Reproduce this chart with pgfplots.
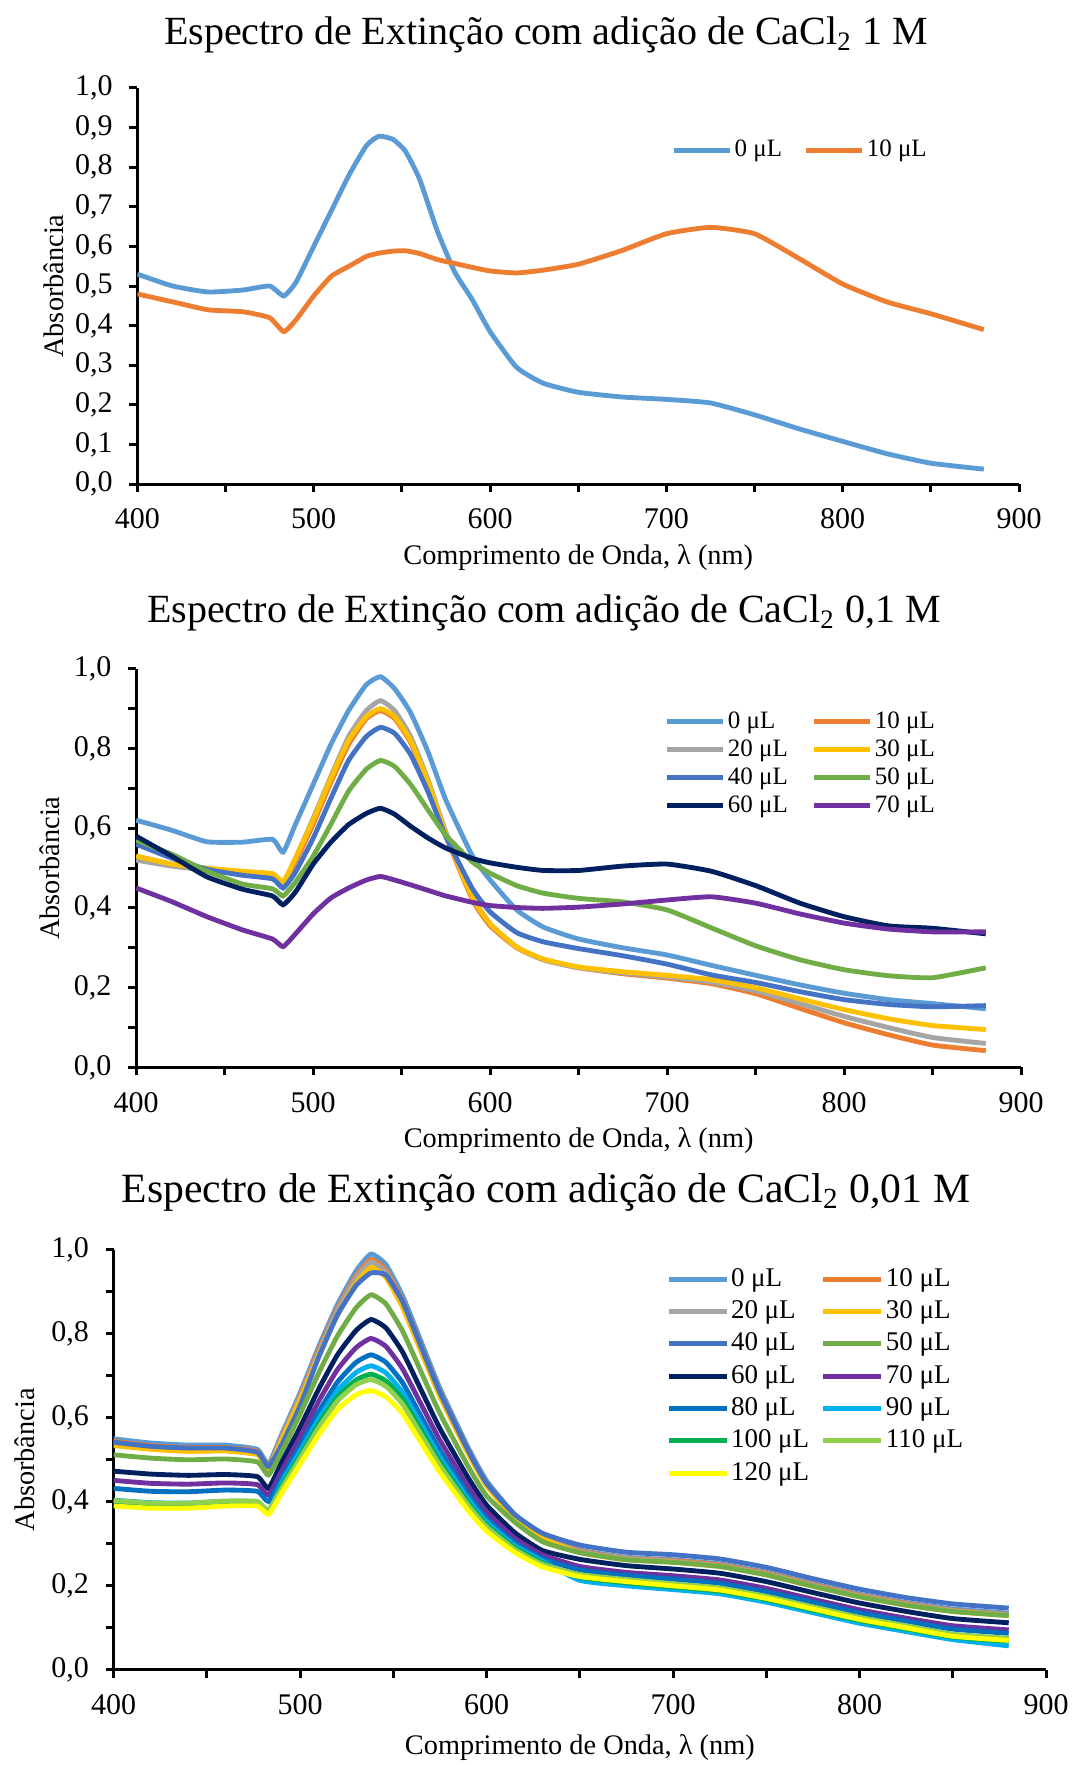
\documentclass[border=0pt]{standalone}
\usepackage{fontspec}
\setmainfont{Liberation Serif}
\usepackage{pgfplots}
\usepackage{pgfplotstable}
\pgfplotsset{compat=1.18}

\definecolor{s0}{HTML}{5B9BD5}
\definecolor{s10}{HTML}{ED7D31}
\definecolor{s20}{HTML}{A5A5A5}
\definecolor{s30}{HTML}{FFC000}
\definecolor{s40}{HTML}{4472C4}
\definecolor{s50}{HTML}{70AD47}
\definecolor{s60}{HTML}{002060}
\definecolor{s70}{HTML}{7030A0}
\definecolor{s80}{HTML}{0070C0}
\definecolor{s90}{HTML}{00B0F0}
\definecolor{s100}{HTML}{00B050}
\definecolor{s110}{HTML}{92D050}
\definecolor{s120}{HTML}{FFFF00}

% CaCl2 1 M
\pgfplotstableread{
lam  a0    a10
400  0.53  0.48
420  0.50  0.46
440  0.485 0.44
460  0.49  0.435
475  0.50  0.42
483  0.475 0.385
490  0.51  0.415
500  0.60  0.475
510  0.69  0.525
520  0.78  0.55
530  0.855 0.575
537  0.878 0.583
545  0.87  0.588
552  0.84  0.589
560  0.77  0.582
570  0.64  0.567
580  0.535 0.557
590  0.465 0.547
600  0.385 0.538
615  0.295 0.533
630  0.255 0.54
650  0.232 0.555
675  0.22  0.59
700  0.214 0.632
725  0.205 0.648
750  0.175 0.632
775  0.14  0.57
800  0.108 0.505
825  0.077 0.46
850  0.053 0.43
880  0.038 0.39
}\tabA

% CaCl2 0,1 M
\pgfplotstableread{
lam  a0    a10   a20   a30   a40   a50   a60   a70
400  0.62  0.53  0.52  0.53  0.56  0.57  0.58  0.45
420  0.595 0.51  0.505 0.51  0.525 0.535 0.53  0.416
440  0.566 0.498 0.495 0.50  0.497 0.492 0.478 0.378
460  0.565 0.488 0.49  0.492 0.482 0.46  0.447 0.345
477  0.572 0.48  0.485 0.486 0.473 0.448 0.43  0.322
483  0.54  0.46  0.463 0.466 0.45  0.43  0.408 0.303
490  0.61  0.515 0.525 0.525 0.49  0.465 0.44  0.335
500  0.71  0.61  0.625 0.62  0.575 0.53  0.51  0.385
510  0.81  0.715 0.73  0.725 0.675 0.61  0.565 0.425
520  0.895 0.81  0.83  0.82  0.77  0.693 0.609 0.45
530  0.96  0.875 0.895 0.88  0.83  0.748 0.637 0.47
538  0.98  0.895 0.92  0.90  0.853 0.77  0.65  0.479
546  0.95  0.875 0.895 0.88  0.838 0.755 0.635 0.47
555  0.89  0.815 0.83  0.82  0.785 0.71  0.605 0.458
565  0.79  0.71  0.72  0.715 0.69  0.645 0.575 0.444
575  0.67  0.58  0.59  0.585 0.578 0.582 0.55  0.43
590  0.53  0.42  0.43  0.425 0.448 0.515 0.524 0.414
600  0.47  0.355 0.36  0.36  0.39  0.487 0.513 0.406
615  0.395 0.30  0.302 0.302 0.338 0.456 0.502 0.401
630  0.352 0.27  0.27  0.272 0.315 0.437 0.494 0.399
650  0.322 0.25  0.25  0.252 0.298 0.424 0.494 0.402
675  0.30  0.235 0.237 0.24  0.28  0.415 0.505 0.41
700  0.282 0.224 0.227 0.231 0.259 0.395 0.51  0.42
725  0.256 0.21  0.214 0.22  0.232 0.35  0.492 0.428
750  0.231 0.185 0.192 0.20  0.213 0.305 0.456 0.412
775  0.207 0.148 0.16  0.172 0.19  0.27  0.412 0.385
800  0.186 0.112 0.128 0.145 0.17  0.245 0.378 0.362
825  0.17  0.082 0.10  0.122 0.158 0.23  0.355 0.347
850  0.16  0.056 0.075 0.105 0.152 0.225 0.349 0.34
880  0.147 0.042 0.06  0.095 0.155 0.25  0.335 0.34
}\tabB

% CaCl2 0,01 M
\pgfplotstableread{
lam  a0    a10   a20   a30   a40   a50   a60   a70   a80   a90   a100  a110  a120
400  0.55  0.544 0.540 0.534 0.542 0.512 0.473 0.451 0.432 0.404 0.399 0.403 0.39
420  0.54  0.534 0.531 0.525 0.532 0.504 0.466 0.444 0.425 0.398 0.394 0.397 0.385
440  0.535 0.529 0.526 0.520 0.528 0.500 0.463 0.442 0.424 0.397 0.393 0.397 0.385
460  0.535 0.529 0.526 0.521 0.528 0.502 0.465 0.445 0.428 0.401 0.397 0.402 0.39
477  0.525 0.520 0.517 0.512 0.518 0.495 0.460 0.441 0.425 0.399 0.396 0.401 0.39
483  0.49  0.485 0.483 0.478 0.484 0.464 0.432 0.416 0.401 0.377 0.374 0.380 0.37
490  0.56  0.554 0.552 0.546 0.535 0.518 0.493 0.473 0.456 0.445 0.437 0.431 0.42
500  0.66  0.653 0.650 0.643 0.629 0.609 0.578 0.555 0.534 0.521 0.510 0.504 0.49
510  0.77  0.762 0.757 0.749 0.745 0.707 0.669 0.640 0.615 0.598 0.585 0.577 0.56
520  0.87  0.86  0.855 0.845 0.845 0.795 0.750 0.715 0.685 0.665 0.650 0.640 0.62
530  0.95  0.938 0.932 0.921 0.915 0.862 0.808 0.767 0.732 0.708 0.690 0.679 0.655
538  0.99  0.977 0.971 0.958 0.945 0.893 0.834 0.789 0.750 0.724 0.704 0.691 0.665
546  0.965 0.952 0.946 0.934 0.94  0.871 0.814 0.770 0.732 0.707 0.688 0.675 0.65
555  0.89  0.879 0.873 0.862 0.876 0.806 0.756 0.716 0.683 0.660 0.644 0.632 0.61
565  0.78  0.770 0.766 0.756 0.768 0.708 0.665 0.631 0.602 0.583 0.569 0.559 0.54
575  0.67  0.662 0.658 0.650 0.660 0.610 0.574 0.546 0.522 0.506 0.494 0.486 0.47
590  0.53  0.524 0.521 0.515 0.523 0.485 0.458 0.437 0.419 0.407 0.398 0.392 0.38
600  0.45  0.445 0.443 0.438 0.444 0.414 0.392 0.376 0.361 0.352 0.344 0.340 0.33
615  0.37  0.366 0.365 0.361 0.37  0.352 0.327 0.314 0.303 0.296 0.291 0.287 0.28
630  0.32  0.317 0.316 0.313 0.325 0.305 0.284 0.274 0.265 0.259 0.254 0.251 0.245
650  0.285 0.283 0.281 0.279 0.297 0.279 0.263 0.246 0.238 0.213 0.220 0.227 0.222
675  0.268 0.266 0.265 0.262 0.280 0.262 0.248 0.232 0.225 0.200 0.207 0.215 0.21
700  0.262 0.260 0.258 0.256 0.274 0.256 0.240 0.224 0.216 0.191 0.197 0.205 0.20
725  0.252 0.250 0.248 0.246 0.264 0.246 0.230 0.214 0.206 0.181 0.187 0.195 0.19
750  0.232 0.230 0.228 0.226 0.244 0.226 0.210 0.194 0.186 0.161 0.167 0.175 0.17
775  0.205 0.203 0.201 0.199 0.217 0.199 0.184 0.168 0.161 0.136 0.142 0.150 0.145
800  0.18  0.178 0.176 0.174 0.192 0.174 0.159 0.143 0.136 0.111 0.117 0.125 0.12
825  0.16  0.158 0.156 0.154 0.172 0.154 0.139 0.123 0.116 0.091 0.097 0.105 0.10
850  0.145 0.142 0.141 0.139 0.157 0.139 0.122 0.105 0.097 0.072 0.078 0.085 0.08
880  0.135 0.132 0.131 0.129 0.147 0.129 0.112 0.095 0.087 0.057 0.068 0.075 0.07
}\tabC

\pgfplotsset{
  espectro/.style={
    scale only axis,
    xmin=400, xmax=900, ymin=0, ymax=1,
    axis x line*=bottom, axis y line*=left,
    axis line style={-, line width=0.9pt, black},
    xtick={400,500,600,700,800,900},
    minor x tick num=1,
    tick align=outside,
    major tick length=2.4pt, minor tick length=2.4pt,
    tick style={black, line width=0.9pt},
    /pgf/number format/assume math mode=true,
    tick label style={font=\fontsize{9}{10}\selectfont},
    xticklabel style={yshift=-1.5pt, /pgf/number format/1000 sep={}},
    yticklabel style={xshift=-1.5pt, /pgf/number format/.cd, fixed, fixed zerofill, precision=1, use comma},
    label style={font=\fontsize{8.5}{10}\selectfont},
    xlabel={Comprimento de Onda, λ (nm)},
    ylabel={Absorbância},
    xlabel style={at={(axis description cs:0.5,-0.184)}, anchor=center},
    legend cell align=left,
    legend image code/.code={\draw[##1, line width=1.5pt] (0pt,0pt) -- (16.8pt,0pt);},
  },
  sp/.style={line width=1.45pt, no markers, smooth, tension=0.3},
}

\begin{document}
\begin{tikzpicture}
\path[use as bounding box] (0,0) rectangle (321.9pt,-529.5pt);

% panel 1
\begin{axis}[espectro,
  at={(41.22pt,-145.26pt)}, anchor=south west,
  width=264.5pt, height=118.9pt,
  ytick={0,0.1,0.2,0.3,0.4,0.5,0.6,0.7,0.8,0.9,1},
  ylabel style={at={(axis description cs:-0.0946,0.5)}, anchor=center},
  legend columns=2,
  legend style={draw=none, fill=none, inner sep=0pt, outer sep=0pt,
    at={(0.606,0.8775)}, anchor=north west,
    font=\fontsize{7.5}{9}\selectfont,
    nodes={inner sep=0.6pt, text height=5.5pt, text depth=1.5pt},
    /tikz/every even column/.append style={column sep=5.9pt}},
]
\addplot[sp, color=s0] table[x=lam, y=a0] {\tabA};
\addlegendentry{0 μL}
\addplot[sp, color=s10] table[x=lam, y=a10] {\tabA};
\addlegendentry{10 μL}
\end{axis}

% panel 2
\begin{axis}[espectro,
  at={(40.86pt,-320.22pt)}, anchor=south west,
  width=265.5pt, height=119.6pt,
  ytick={0,0.2,0.4,0.6,0.8,1}, minor y tick num=1,
  ylabel style={at={(axis description cs:-0.0974,0.5)}, anchor=center},
  legend columns=2,
  legend style={draw=none, fill=none, inner sep=0pt, outer sep=0pt,
    at={(0.5975,0.9008)}, anchor=north west,
    font=\fontsize{7.5}{9}\selectfont,
    nodes={inner sep=0.6pt, text height=5.5pt, text depth=1.5pt},
    row sep=0.2pt,
    /tikz/every even column/.append style={column sep=6.6pt}},
]
\addplot[sp, color=s0] table[x=lam, y=a0] {\tabB};
\addlegendentry{0 μL}
\addplot[sp, color=s10] table[x=lam, y=a10] {\tabB};
\addlegendentry{10 μL}
\addplot[sp, color=s20] table[x=lam, y=a20] {\tabB};
\addlegendentry{20 μL}
\addplot[sp, color=s30] table[x=lam, y=a30] {\tabB};
\addlegendentry{30 μL}
\addplot[sp, color=s40] table[x=lam, y=a40] {\tabB};
\addlegendentry{40 μL}
\addplot[sp, color=s50] table[x=lam, y=a50] {\tabB};
\addlegendentry{50 μL}
\addplot[sp, color=s60] table[x=lam, y=a60] {\tabB};
\addlegendentry{60 μL}
\addplot[sp, color=s70] table[x=lam, y=a70] {\tabB};
\addlegendentry{70 μL}
\end{axis}

% panel 3
\begin{axis}[espectro,
  at={(34.11pt,-500.94pt)}, anchor=south west,
  width=279.7pt, height=126pt,
  ytick={0,0.2,0.4,0.6,0.8,1}, minor y tick num=1,
  ylabel style={at={(axis description cs:-0.0951,0.5)}, anchor=center},
  xlabel style={at={(axis description cs:0.5,-0.185)}},
  legend columns=2,
  legend image code/.code={\draw[#1, line width=1.5pt] (0pt,0pt) -- (17.4pt,0pt);},
  legend style={draw=none, fill=none, inner sep=0pt, outer sep=0pt,
    at={(0.5924,0.9658)}, anchor=north west,
    font=\fontsize{8.1}{9.5}\selectfont,
    nodes={inner sep=0.6pt, text height=6pt, text depth=1.7pt},
    row sep=0.8pt,
    /tikz/every even column/.append style={column sep=2.9pt}},
]
\addplot[sp, color=s0] table[x=lam, y=a0] {\tabC};
\addlegendentry{0 μL}
\addplot[sp, color=s10] table[x=lam, y=a10] {\tabC};
\addlegendentry{10 μL}
\addplot[sp, color=s20] table[x=lam, y=a20] {\tabC};
\addlegendentry{20 μL}
\addplot[sp, color=s30] table[x=lam, y=a30] {\tabC};
\addlegendentry{30 μL}
\addplot[sp, color=s40] table[x=lam, y=a40] {\tabC};
\addlegendentry{40 μL}
\addplot[sp, color=s50] table[x=lam, y=a50] {\tabC};
\addlegendentry{50 μL}
\addplot[sp, color=s60] table[x=lam, y=a60] {\tabC};
\addlegendentry{60 μL}
\addplot[sp, color=s70] table[x=lam, y=a70] {\tabC};
\addlegendentry{70 μL}
\addplot[sp, color=s80] table[x=lam, y=a80] {\tabC};
\addlegendentry{80 μL}
\addplot[sp, color=s90] table[x=lam, y=a90] {\tabC};
\addlegendentry{90 μL}
\addplot[sp, color=s100] table[x=lam, y=a100] {\tabC};
\addlegendentry{100 μL}
\addplot[sp, color=s110] table[x=lam, y=a110] {\tabC};
\addlegendentry{110 μL}
\addplot[sp, color=s120] table[x=lam, y=a120] {\tabC};
\addlegendentry{120 μL}
\end{axis}

% titles
\node[anchor=base, font=\fontsize{12}{14}\selectfont] at (163.8pt,-13.5pt)
  {Espectro de Extinção com adição de CaCl\textsubscript{2} 1 M};
\node[anchor=base, font=\fontsize{12}{14}\selectfont] at (163.2pt,-186.8pt)
  {Espectro de Extinção com adição de CaCl\textsubscript{2} 0,1 M};
\node[anchor=base, font=\fontsize{12.5}{14}\selectfont] at (163.8pt,-360.8pt)
  {Espectro de Extinção com adição de CaCl\textsubscript{2} 0,01 M};
\end{tikzpicture}
\end{document}
